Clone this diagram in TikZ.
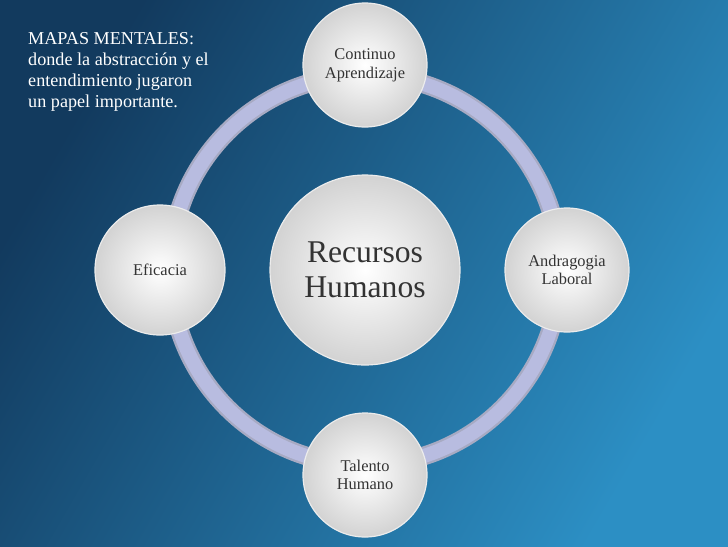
\documentclass[tikz,border=0pt]{standalone}
\usepackage{fontspec}
\setmainfont{Liberation Serif}
\usetikzlibrary{positioning}
\definecolor{bgdark}{HTML}{123A5E}
\definecolor{bglight}{HTML}{2C8FC4}
\definecolor{ringcol}{HTML}{B8BCE0}
\tikzset{
  bubble/.style={circle, draw=white!85!gray, line width=1pt, inner color=white, outer color=gray!35, text=black!80, align=center, font=\fontsize{14}{16}\selectfont},
}
\begin{document}
\begin{tikzpicture}[x=0.03cm, y=-0.03cm]
\useasboundingbox (0,0) rectangle (728,546);
\shade[left color=bgdark, right color=bglight, shading angle=60] (0,0) rectangle (728,546);
% ring
\draw[line width=16pt, ringcol!70!gray] (365,270) circle (195);
\draw[line width=12pt, ringcol] (365,270) circle (195);
% bubbles
\node[bubble, minimum size=190*0.03cm, font=\fontsize{27}{30}\selectfont] (hr) at (365,270) {Recursos\\Humanos};
\node[bubble, minimum size=124*0.03cm] (cont) at (365,65) {Continuo\\Aprendizaje};
\node[bubble, minimum size=124*0.03cm] (andr) at (567,270) {Andragogia\\Laboral};
\node[bubble, minimum size=124*0.03cm] (tal) at (365,475) {Talento\\Humano};
\node[bubble, minimum size=130*0.03cm] (efic) at (160,270) {Eficacia};
% title
\node[anchor=north west, text=white, align=left, font=\fontsize{15.5}{18}\selectfont, inner sep=0pt] (title) at (28,32) {MAPAS MENTALES:\\donde la abstracción y el\\entendimiento jugaron\\un papel importante.};
\end{tikzpicture}
\end{document}
